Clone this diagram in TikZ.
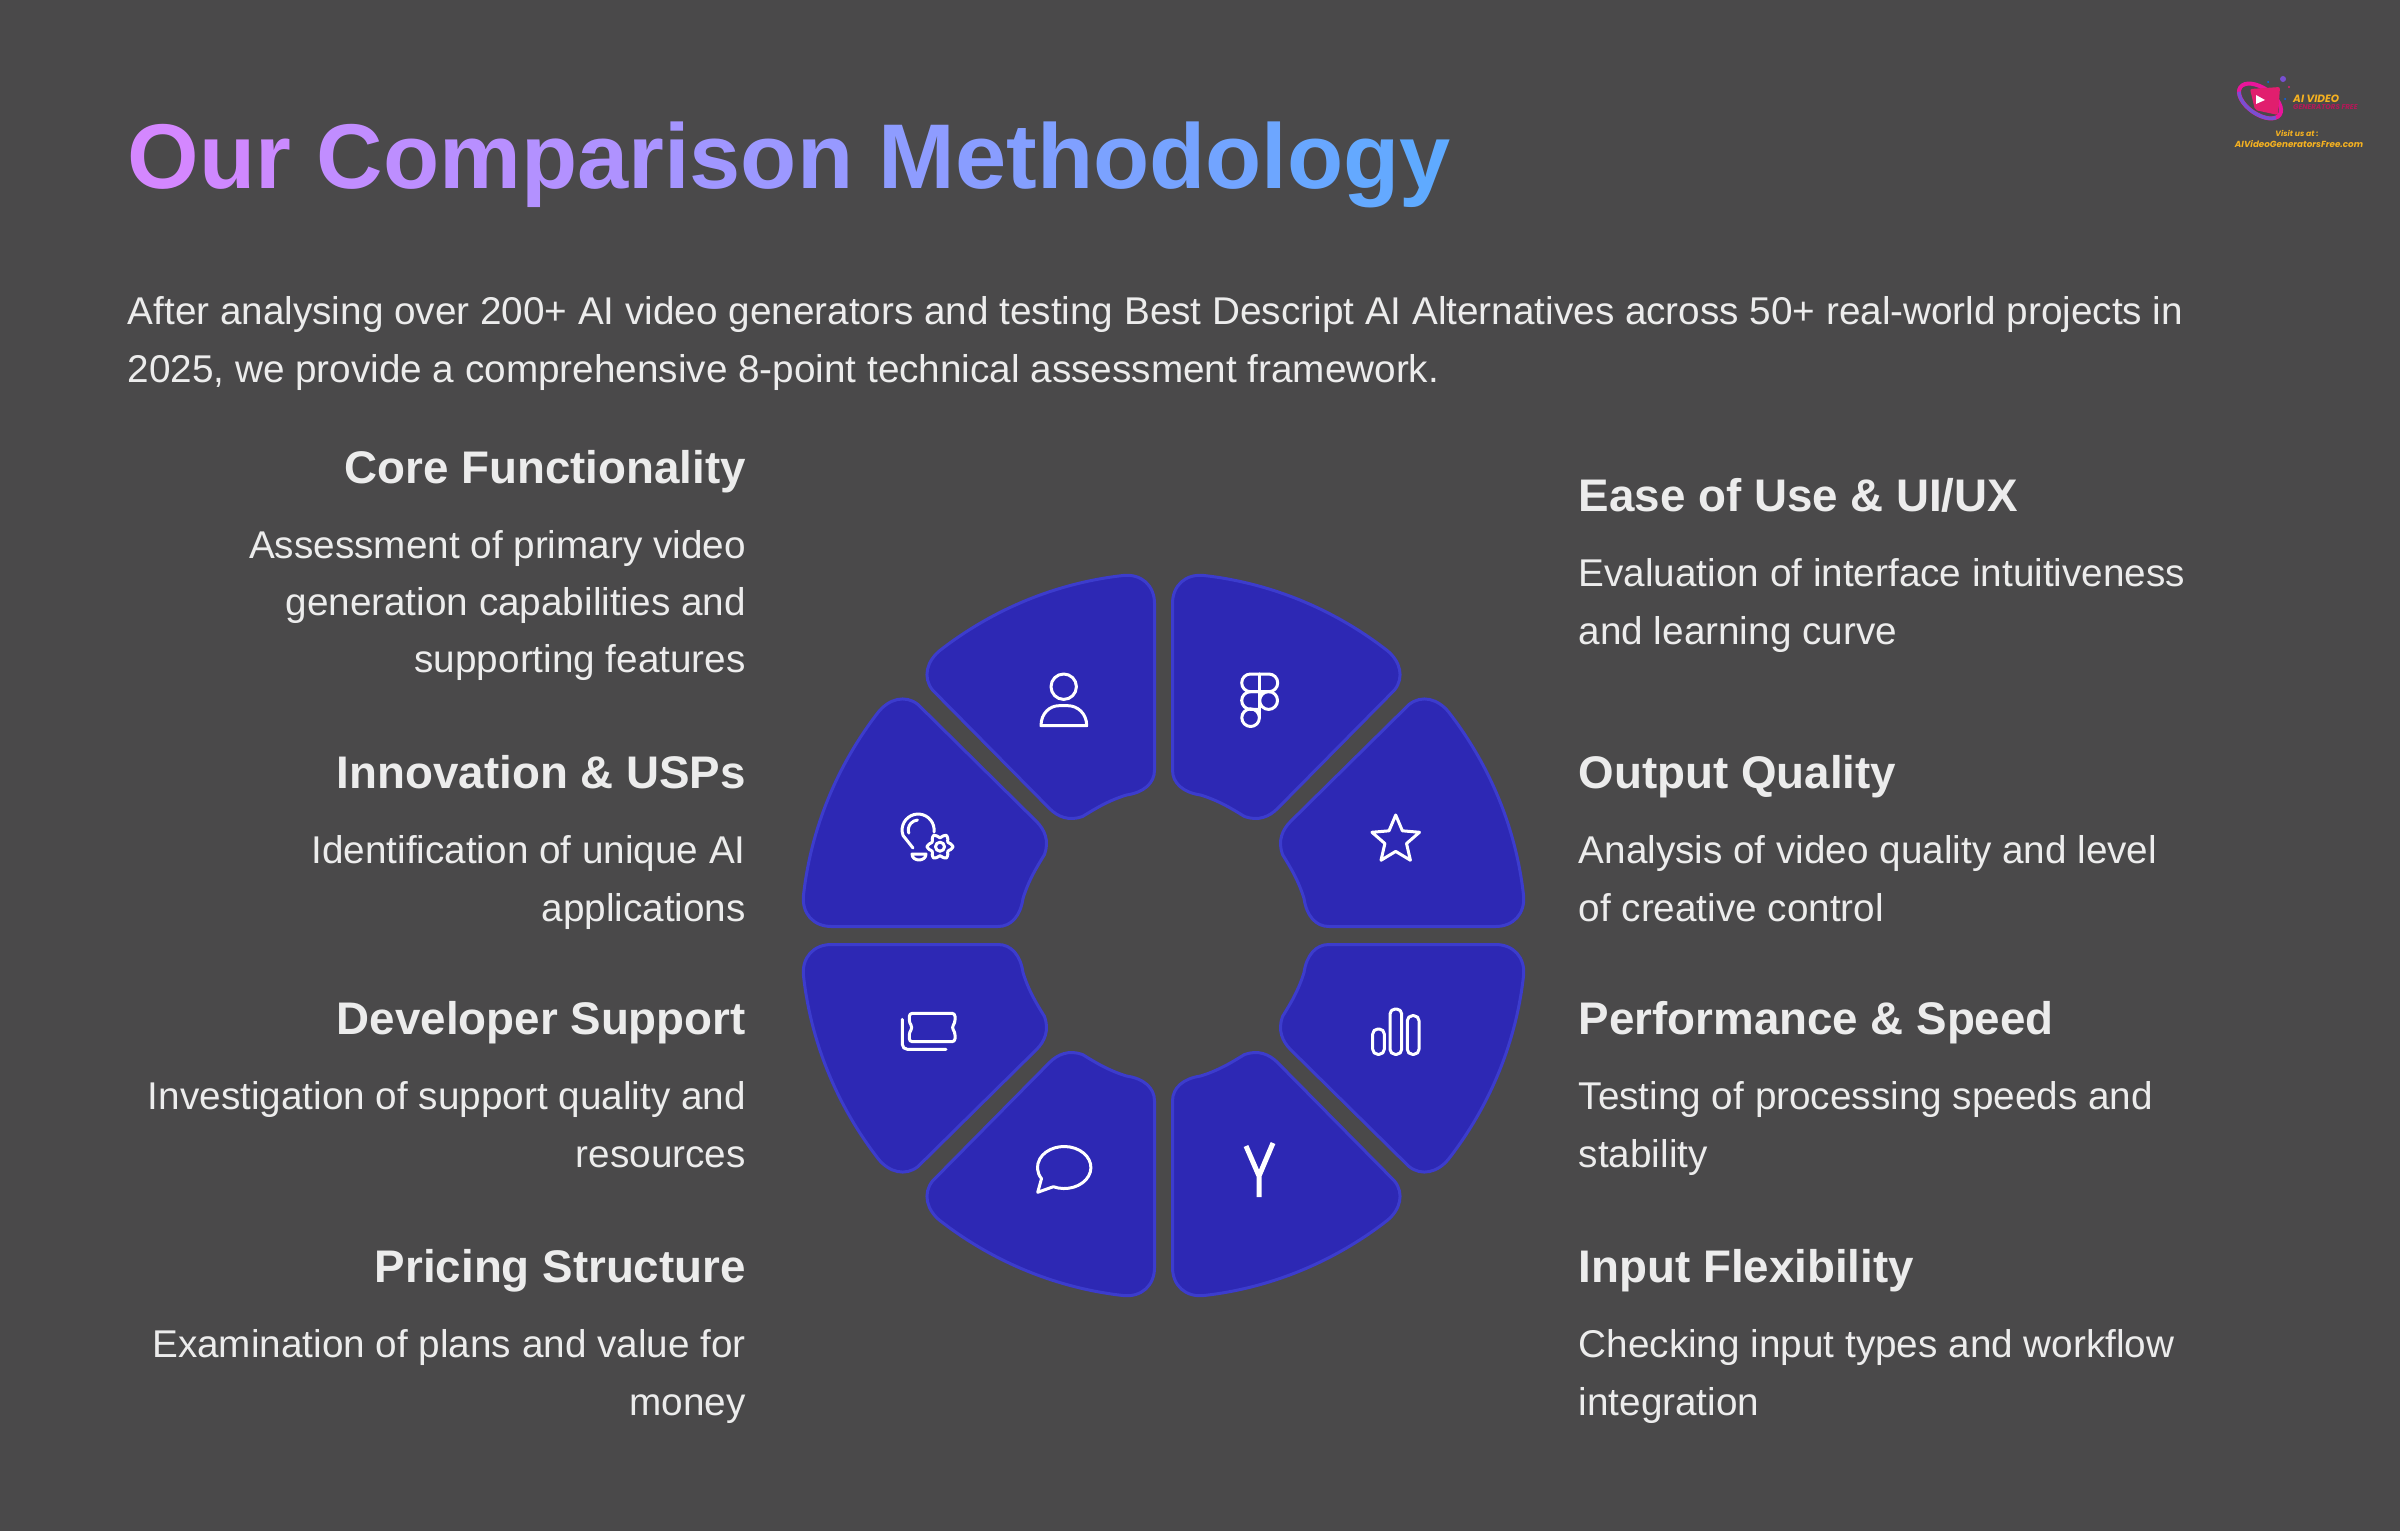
\documentclass[tikz,border=0pt]{standalone}
\usepackage{fontspec}
\setmainfont{Liberation Sans}
\newfontfamily\logofont{Poppins}
\usetikzlibrary{shapes.geometric}
\definecolor{slidebg}{RGB}{74,73,74}
\definecolor{wedgefill}{RGB}{45,40,180}
\definecolor{wedgeedge}{RGB}{60,60,205}
\definecolor{bodytext}{RGB}{236,236,236}
\definecolor{gradstart}{RGB}{212,135,255}
\definecolor{gradend}{RGB}{95,170,255}
\definecolor{logogold}{RGB}{245,177,32}
\definecolor{logopink}{RGB}{225,30,110}
\definecolor{logopurple}{RGB}{120,80,210}
\newcount\gradpos
\gradpos=-4
\def\gradword#1{\ifx#1\relax\else\advance\gradpos by 4 \textcolor{gradend!\the\gradpos!gradstart}{#1}\expandafter\gradword\fi}
\tikzset{
  headlabel/.style={font=\fontsize{13}{15}\selectfont\bfseries,text=bodytext,inner sep=0pt},
  bodylabel/.style={font=\fontsize{11}{14}\selectfont,text=bodytext,inner sep=0pt},
  leftside/.style={anchor=base east},
  rightside/.style={anchor=base west},
  wedgebox/.style={fill=wedgefill,draw=wedgeedge,line width=.03cm},
  iconline/.style={draw=white,line width=.03cm,line join=round,line cap=round}
}
\begin{document}
\begin{tikzpicture}[x=.01cm,y=-.01cm]
\useasboundingbox (0,0) rectangle (2400,1530);
\fill[slidebg] (-10,-10) rectangle (2410,1540);
\node (title) [anchor=base west,inner sep=0pt,font=\fontsize{26.15}{30}\selectfont\bfseries] at (127,188) {\gradword Our~Comparison~Methodology\relax};
\node (introone) [bodylabel,rightside] at (127,324.5) {After analysing over 200+ AI video generators and testing Best Descript AI Alternatives across 50+ real-world projects in};
\node (introtwo) [bodylabel,rightside] at (127,382.5) {2025, we provide a comprehensive 8-point technical assessment framework.};
\node (corehead) [headlabel,leftside] at (746.5,483.5) {Core Functionality};
\node (coreone) [bodylabel,leftside] at (746.5,558.5) {Assessment of primary video};
\node (coretwo) [bodylabel,leftside] at (746.5,615.5) {generation capabilities and};
\node (corethree) [bodylabel,leftside] at (746.5,672.5) {supporting features};
\node (innohead) [headlabel,leftside] at (746.5,788) {Innovation \& USPs};
\node (innoone) [bodylabel,leftside] at (746.5,863) {Identification of unique AI};
\node (innotwo) [bodylabel,leftside] at (746.5,921) {applications};
\node (devhead) [headlabel,leftside] at (746.5,1034) {Developer Support};
\node (devone) [bodylabel,leftside] at (746.5,1109) {Investigation of support quality and};
\node (devtwo) [bodylabel,leftside] at (746.5,1167) {resources};
\node (pricehead) [headlabel,leftside] at (746.5,1282) {Pricing Structure};
\node (priceone) [bodylabel,leftside] at (746.5,1357) {Examination of plans and value for};
\node (pricetwo) [bodylabel,leftside] at (746.5,1415) {money};
\node (easehead) [headlabel,rightside] at (1578,511) {Ease of Use \& UI/UX};
\node (easeone) [bodylabel,rightside] at (1578,586) {Evaluation of interface intuitiveness};
\node (easetwo) [bodylabel,rightside] at (1578,644) {and learning curve};
\node (outhead) [headlabel,rightside] at (1578,788) {Output Quality};
\node (outone) [bodylabel,rightside] at (1578,863) {Analysis of video quality and level};
\node (outtwo) [bodylabel,rightside] at (1578,921) {of creative control};
\node (perfhead) [headlabel,rightside] at (1578,1034) {Performance \& Speed};
\node (perfone) [bodylabel,rightside] at (1578,1109) {Testing of processing speeds and};
\node (perftwo) [bodylabel,rightside] at (1578,1167) {stability};
\node (inputhead) [headlabel,rightside] at (1578,1282) {Input Flexibility};
\node (inputone) [bodylabel,rightside] at (1578,1357) {Checking input types and workflow};
\node (inputtwo) [bodylabel,rightside] at (1578,1415) {integration};
\foreach \ca/\cb/\cc/\cd in {1/0/0/1,-1/0/0/1,-1/0/0/-1,1/0/0/-1,0/-1/-1/0,0/-1/1/0,0/1/1/0,0/1/-1/0}
  \draw[wedgebox,shift={(1163.5,935.5)},cm={\ca,\cb,\cc,\cd,(0,0)}]
    (-9,-332) .. controls (-9,-350) and (-22,-362) .. (-40.5,-360)
    .. controls (-107,-352.5) and (-170,-326.5) .. (-223,-285.5)
    .. controls (-237,-274.5) and (-241,-258) .. (-231,-245.5)
    -- (-114,-127) .. controls (-106,-119) and (-95,-114) .. (-81,-119)
    .. controls (-68,-127) and (-55,-135) .. (-37,-140.5)
    .. controls (-20,-143) and (-9,-152) .. (-9,-165.5) -- cycle;
% person
\draw[iconline] (1063.7,686.7) circle[radius=.127cm];
\draw[iconline] (1041,725.7) -- (1086.7,725.7) .. controls (1086.7,713) and (1077,705.7) .. (1068,705.7) -- (1059,705.7) .. controls (1050,705.7) and (1041,713) .. (1041,725.7) -- cycle;
% bulb and gear
\draw[iconline] (934,832) arc[start angle=-7,end angle=200,radius=.16cm] -- (913,848);
\draw[iconline] (908.8,833.1) arc[start angle=198,end angle=95,radius=.1cm];
\draw[iconline] (912,854) -- (926,854) .. controls (926,862) and (912,862) .. (912,854) -- cycle;
\draw[iconline,shift={(940,846.7)}] plot[domain=0:345,samples=24,smooth cycle] ({(11+2*cos(6*\x))*cos(\x)},{(11+2*cos(6*\x))*sin(\x)});
\draw[iconline] (940,846.7) circle[radius=.045cm];
% figma
\draw[iconline,rounded corners=.088cm] (1259.5,674) -- (1241.7,674) -- (1241.7,691.7) -- (1259.5,691.7);
\draw[iconline,rounded corners=.088cm] (1259.5,674) -- (1277.7,674) -- (1277.7,691.7) -- (1259.5,691.7);
\draw[iconline,rounded corners=.088cm] (1259.5,691.7) -- (1241.7,691.7) -- (1241.7,709.3) -- (1259.5,709.3);
\draw[iconline] (1268.6,700.5) circle[radius=.089cm];
\draw[iconline] (1250.6,717.7) circle[radius=.088cm];
\draw[iconline] (1259.5,674) -- (1259.5,717.7);
% star
\node (staricon) [iconline,star,star points=5,star point ratio=2.2,minimum size=.5cm,inner sep=0pt] at (1395.7,840) {};
% bars
\draw[iconline,rounded corners=.05cm] (1372.7,1029) rectangle (1384.3,1054.3);
\draw[iconline,rounded corners=.05cm] (1390,1009) rectangle (1401.7,1054.3);
\draw[iconline,rounded corners=.05cm] (1407.3,1015.7) rectangle (1419,1054.3);
% y glyph
\draw[iconline,line width=.05cm,line cap=butt,line join=miter] (1246,1146) -- (1259,1176) -- (1273,1143) (1259,1176) -- (1259,1197);
% chat
\draw[iconline] (1053.3,1186.7) arc[start angle=246,end angle=572,x radius=.267cm,y radius=.21cm] -- (1037.7,1192.3) -- cycle;
% ticket
\draw[iconline,rounded corners=.03cm] (909.3,1013.3) -- (955,1013.3) -- (955,1023) -- (951.5,1027.5) -- (955,1032) -- (955,1041.7) -- (909.3,1041.7) -- (909.3,1032) -- (912.8,1027.5) -- (909.3,1023) -- cycle;
\draw[iconline,rounded corners=.05cm] (902.3,1019.3) -- (902.3,1049.3) -- (946,1049.3);
% logo
\draw[logopink!70!magenta,line width=.04cm,rotate around={-35:(2260,101)}] (2260,101) ellipse[x radius=.24cm,y radius=.13cm];
\draw[logopurple,line width=.035cm,rotate around={-35:(2260,101)}] (2260,101) ++(-20:.24cm and .13cm) arc[start angle=-20,end angle=-160,x radius=.24cm,y radius=.13cm];
\fill[logopink,rounded corners=.02cm] (2250,89) -- (2280,87) -- (2278,115) -- (2255,110) -- cycle;
\fill[white] (2256,95) -- (2265,100) -- (2256,104) -- cycle;
\fill[logopurple] (2283,79) circle[radius=.03cm];
\fill[logopink] (2289,87) circle[radius=.012cm];
\fill[blue!60!cyan] (2268,82) circle[radius=.01cm];
\fill[blue!60!cyan] (2285,99) circle[radius=.01cm];
\node (logoai) [anchor=base west,inner sep=0pt,text=logogold,font=\logofont\fontsize{3}{3}\selectfont\bfseries\itshape] at (2292.5,102) {AI VIDEO};
\node (logogen) [anchor=base west,inner sep=0pt,text=logopink!80!black,font=\logofont\fontsize{2}{3}\selectfont\bfseries\itshape] at (2292.5,110) {GENERATORS FREE};
\node (logovisit) [anchor=base,inner sep=0pt,text=logogold,font=\logofont\fontsize{2.2}{3}\selectfont\bfseries\itshape] at (2297,136) {Visit us at :};
\node (logourl) [anchor=base,inner sep=0pt,text=logogold,font=\logofont\fontsize{2.5}{3}\selectfont\bfseries\itshape] at (2299,147) {AIVideoGeneratorsFree.com};
\end{tikzpicture}
\end{document}
